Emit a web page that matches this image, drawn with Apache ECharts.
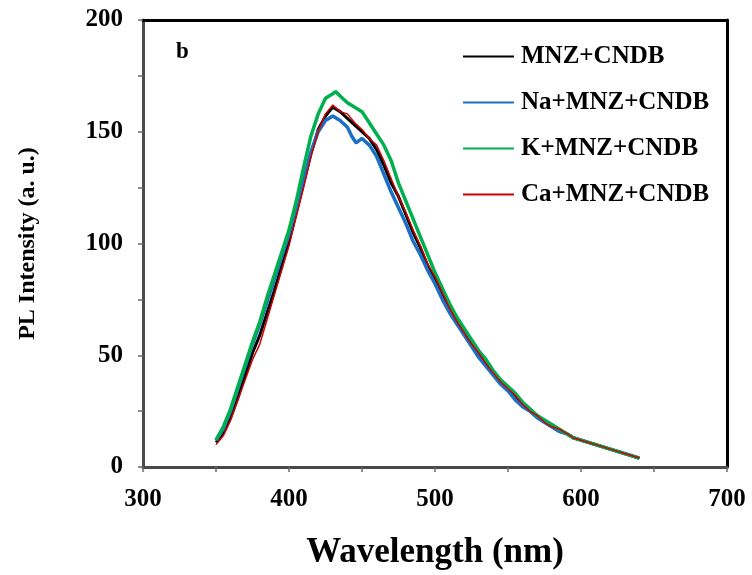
<!DOCTYPE html>
<html>
<head>
<meta charset="utf-8">
<script src="https://cdn.jsdelivr.net/npm/echarts@6/dist/echarts.min.js"></script>
<style>html,body{margin:0;padding:0;background:#fff}#c{width:752px;height:575px}</style>
</head>
<body>
<div id="c"></div>
<script>
const seriesNames = ['MNZ+CNDB', 'Na+MNZ+CNDB', 'K+MNZ+CNDB', 'Ca+MNZ+CNDB'];
const xTicks = [300, 400, 500, 600, 700];
const yTicks = [0, 50, 100, 150, 200];

const wlBlack = [350,355,360,365,370,375,380,385,390,395,400,405,410,415,420,425,430,435,440,445,450,455,460,465,470,475,480,485,490,495,500,505,510,515,520,525,530,535,540,545,550,555,560,565,570,575,580,585,590,595,600,605,610,615,620,625,630,635,640];
const valBlack = [11,15,22,31,41,51,59,69,79,90,101,114,127,140,151,157,161,159,156,153,150,147,142,135,127,121,113,105,98,90,84,77,71,65,60,55,50,46,42,38,35,31,28,25,23,20,18,16,15,13,12,11,10,9,8,7,6,5,4];

const wlNa = [350,355,360,365,370,375,380,385,390,395,400,405,410,415,420,425,430,435,440,443,446,450,455,460,465,470,475,480,485,490,495,500,505,510,515,520,525,530,535,540,545,550,555,560,565,570,575,580,585,590,595,600,605,610,615,620,625,630,635,640];
const valNa = [12,17,25,35,45,55,64,74,84,94,104,116,129,141,150,155,157,155,152,148,145,147,144,139,131,123,116,109,101,95,88,82,75,69,64,59,54,49,45,41,37,34,30,27,25,22,20,18,16,15,13,12,11,10,9,8,7,6,5,4];

const wlK = [350,355,360,365,370,375,380,385,390,395,400,405,410,415,420,425,430,432,435,440,445,450,455,460,465,470,475,480,485,490,495,500,505,510,515,520,525,530,535,540,545,550,555,560,565,570,575,580,585,590,595,600,605,610,615,620,625,630,635,640];
const valK = [12,18,26,36,46,56,65,76,86,96,106,119,134,148,158,165,167,168,166,163,161,159,154,149,144,137,127,119,111,103,95,87,80,73,67,62,57,52,48,43,39,36,33,29,26,23,21,19,17,15,13,12,11,10,9,8,7,6,5,4];

const wlCa = [350,355,360,365,370,375,380,385,390,395,400,405,410,415,420,425,430,435,440,445,450,455,460,465,470,475,480,485,490,495,500,505,510,515,520,525,530,535,540,545,550,555,560,565,570,575,580,585,590,595,600,605,610,615,620,625,630,635,640];
const valCa = [10,14,21,30,39,48,55,66,77,88,99,112,125,139,150,158,162,159,158,154,151,147,144,137,129,121,114,106,99,91,85,78,71,65,60,55,51,46,42,38,35,32,28,25,23,20,18,17,15,13,12,11,10,9,8,7,6,5,4];

const pairs = (xs, ys) => xs.map((x, i) => [x, ys[i]]);
const colors = ['#000000', '#1b6fc4', '#00b04f', '#d00000'];
const widths = [3, 3.5, 3.5, 1.5];
const datasets = [pairs(wlBlack, valBlack), pairs(wlNa, valNa), pairs(wlK, valK), pairs(wlCa, valCa)];

const font = '"Liberation Serif", "Times New Roman", serif';
const chart = echarts.init(document.getElementById('c'), null, {renderer: 'canvas'});
chart.setOption({
  animation: false,
  backgroundColor: '#fff',
  grid: {left: 143, right: 25, top: 20, bottom: 107, containLabel: false},
  xAxis: [{
    type: 'value', min: xTicks[0], max: xTicks[xTicks.length - 1], interval: 100,
    name: 'Wavelength (nm)', nameLocation: 'middle', nameGap: 68,
    nameTextStyle: {fontFamily: font, fontWeight: 'bold', fontSize: 35, color: '#000'},
    axisLine: {onZero: false, lineStyle: {color: '#4a4a4a', width: 3}},
    axisTick: {show: true, inside: false, length: 5, lineStyle: {color: '#6a6a6a', width: 1.5}},
    minorTick: {show: true, splitNumber: 2, length: 5, lineStyle: {color: '#6a6a6a', width: 1.5}},
    axisLabel: {fontFamily: font, fontWeight: 'bold', fontSize: 25, color: '#000', margin: 20},
    splitLine: {show: false}
  }, {
    type: 'value', position: 'top', min: xTicks[0], max: xTicks[xTicks.length - 1],
    axisLine: {onZero: false, lineStyle: {color: '#000', width: 3}},
    axisTick: {show: false}, axisLabel: {show: false}, splitLine: {show: false}
  }],
  yAxis: [{
    type: 'value', min: yTicks[0], max: yTicks[yTicks.length - 1], interval: 50,
    name: 'PL Intensity (a. u.)', nameLocation: 'middle', nameGap: 103,
    nameTextStyle: {fontFamily: font, fontWeight: 'bold', fontSize: 24, color: '#000'},
    axisLine: {show: true, onZero: false, lineStyle: {color: '#4a4a4a', width: 3}},
    axisTick: {show: true, inside: false, length: 5, lineStyle: {color: '#6a6a6a', width: 1.5}},
    minorTick: {show: true, splitNumber: 2, length: 5, lineStyle: {color: '#6a6a6a', width: 1.5}},
    axisLabel: {fontFamily: font, fontWeight: 'bold', fontSize: 25, color: '#000', margin: 20},
    splitLine: {show: false}
  }, {
    type: 'value', position: 'right', min: yTicks[0], max: yTicks[yTicks.length - 1],
    axisLine: {show: true, onZero: false, lineStyle: {color: '#000', width: 3}},
    axisTick: {show: false}, axisLabel: {show: false}, splitLine: {show: false}
  }],
  legend: {
    orient: 'vertical', left: 457, top: 39, itemWidth: 51, itemHeight: 20, itemGap: 21,
    itemStyle: {color: 'rgba(0,0,0,0)', borderWidth: 0, opacity: 0},
    textStyle: {fontFamily: font, fontWeight: 'bold', fontSize: 25, color: '#000', padding: [0, 0, 0, 2]},
    data: seriesNames
  },
  graphic: [{
    type: 'text', left: 176, top: 41,
    style: {text: 'b', font: 'bold 23px ' + font, fill: '#000'}
  }],
  series: seriesNames.map((n, i) => ({
    name: n, type: 'line', data: datasets[i], symbol: 'none', smooth: false,
    lineStyle: {color: colors[i], width: widths[i]}, itemStyle: {color: colors[i]},
    z: 2 + i
  }))
});
</script>
</body>
</html>
